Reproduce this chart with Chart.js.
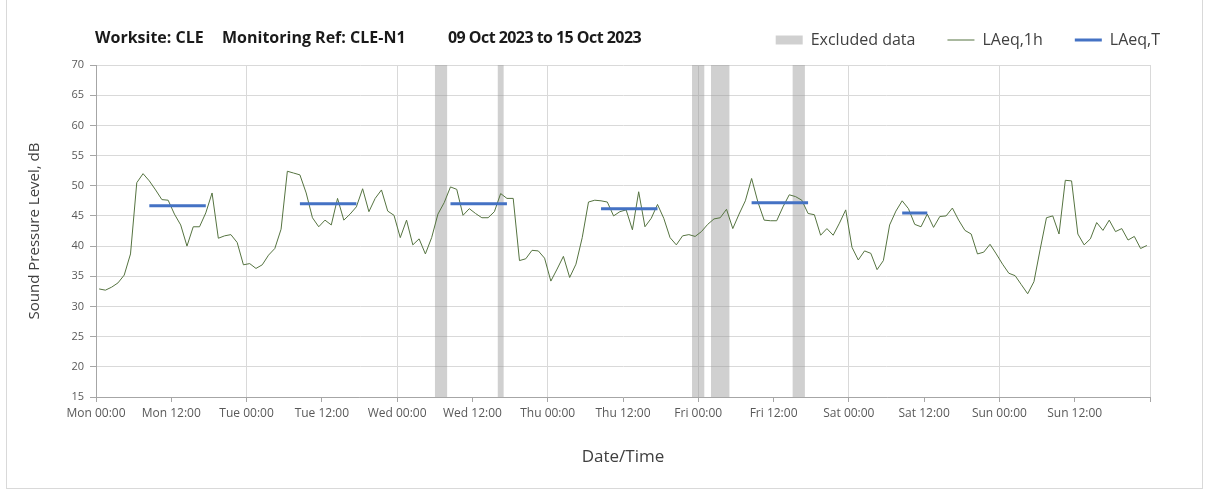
<!DOCTYPE html>
<html>
<head>
<meta charset="utf-8">
<title>CLE-N1 noise monitoring</title>
<script src="https://cdn.jsdelivr.net/npm/chart.js@4.4.0/dist/chart.umd.min.js"></script>
<style>
  html, body { margin: 0; padding: 0; background: #fff; }
  #wrap { position: relative; width: 1208px; height: 492px; overflow: hidden; }
  #frame { position: absolute; left: 6px; top: -1px; width: 1197px; height: 490px; border: 1px solid #d9d9d9; box-sizing: border-box; }
  #chart { position: absolute; left: 0; top: 0; }
  .ttl { position: absolute; top: 26px; font: bold 16px 'Open Sans', sans-serif; color: #1a1a1a; white-space: nowrap; }
</style>
</head>
<body>
<div id="wrap">
  <div id="frame"></div>
  <canvas id="chart" width="1208" height="492"></canvas>
  <div class="ttl" style="left:95px">Worksite: CLE</div>
  <div class="ttl" style="left:222px">Monitoring Ref: CLE-N1</div>
  <div class="ttl" style="left:448px;letter-spacing:-0.55px">09 Oct 2023 to 15 Oct 2023</div>
</div>
<script>
// hourly LAeq,1h values, Mon 00:00 .. Sun 23:00 (one per hour)
const laeq1h = [
  32.9, 32.7, 33.2, 33.9, 35.2, 38.7, 50.5, 52.0, 50.8, 49.3, 47.7, 47.6,
  45.3, 43.5, 40.0, 43.2, 43.2, 45.5, 48.8, 41.3, 41.7, 41.9, 40.6, 36.9,
  37.1, 36.3, 36.9, 38.5, 39.6, 42.8, 52.4, 52.1, 51.8, 48.8, 44.7, 43.2,
  44.3, 43.5, 47.9, 44.3, 45.3, 46.5, 49.5, 45.7, 47.9, 49.3, 45.8, 45.1,
  41.4, 44.3, 40.2, 41.2, 38.7, 41.4, 45.3, 47.2, 49.8, 49.4, 45.1, 46.2,
  45.4, 44.7, 44.7, 45.7, 48.7, 47.9, 47.9, 37.6, 37.9, 39.3, 39.2, 38.0,
  34.2, 36.2, 38.3, 34.8, 37.0, 41.4, 47.3, 47.6, 47.5, 47.3, 45.0, 45.7,
  46.0, 42.7, 49.0, 43.2, 44.6, 46.9, 44.6, 41.4, 40.2, 41.7, 41.9, 41.6,
  42.4, 43.6, 44.5, 44.7, 46.1, 42.9, 45.3, 47.5, 51.2, 47.3, 44.3, 44.2,
  44.2, 46.5, 48.5, 48.2, 47.6, 45.4, 45.2, 41.8, 42.9, 41.8, 43.8, 46.0,
  39.8, 37.7, 39.2, 38.8, 36.1, 37.6, 43.5, 45.8, 47.5, 46.2, 43.6, 43.2,
  45.3, 43.1, 44.9, 45.0, 46.3, 44.3, 42.6, 42.0, 38.7, 39.0, 40.3, 38.7,
  37.0, 35.5, 35.1, 33.6, 32.1, 34.1, 39.5, 44.7, 45.0, 42.0, 50.9, 50.8,
  42.0, 40.2, 41.2, 43.9, 42.6, 44.3, 42.4, 42.9, 41.0, 41.6, 39.6, 40.1
];

// LAeq,T periods (first and last hour index of each period)
const periodStart = [8, 32, 56, 80, 104, 128];
const periodEnd = [17, 41, 65, 89, 113, 132];
const periodLevel = [46.7, 47.0, 47.0, 46.2, 47.2, 45.5];

// excluded data blocks, in hours from Mon 00:00
const exclStart = [54, 64, 95, 98, 111];
const exclEnd = [56, 65, 97, 101, 113];

const xTickLabels = [
  'Mon 00:00', 'Mon 12:00', 'Tue 00:00', 'Tue 12:00', 'Wed 00:00', 'Wed 12:00', 'Thu 00:00',
  'Thu 12:00', 'Fri 00:00', 'Fri 12:00', 'Sat 00:00', 'Sat 12:00', 'Sun 00:00', 'Sun 12:00'
];
const yMin = 15, yMax = 70;

// build point lists for the library
const hourlyPoints = laeq1h.map((v, i) => ({ x: i + 0.5, y: v }));

const periodPoints = [];
periodStart.forEach((s, i) => {
  if (i > 0) periodPoints.push({ x: s, y: null });
  periodPoints.push({ x: s + 0.5, y: periodLevel[i] });
  periodPoints.push({ x: periodEnd[i] + 0.5, y: periodLevel[i] });
});

const excludedPoints = [];
exclStart.forEach((s, i) => {
  if (i > 0) excludedPoints.push({ x: s - 0.01, y: null });
  excludedPoints.push({ x: s, y: yMax });
  excludedPoints.push({ x: exclEnd[i], y: yMax });
});

const textColor = '#404040';
const font = "'Open Sans', sans-serif";

const ctx = document.getElementById('chart').getContext('2d');
new Chart(ctx, {
  type: 'line',
  data: {
    datasets: [
      {
        label: 'Excluded data',
        data: excludedPoints,
        order: 3,
        fill: 'start',
        backgroundColor: 'rgba(150,150,150,0.45)',
        borderColor: 'rgba(0,0,0,0)',
        borderWidth: 0,
        pointRadius: 0,
        pointStyle: 'rect',
        spanGaps: false
      },
      {
        label: 'LAeq,1h',
        data: hourlyPoints,
        order: 2,
        borderColor: '#557340',
        backgroundColor: '#557340',
        borderWidth: 1,
        pointRadius: 0,
        pointStyle: 'line',
        tension: 0
      },
      {
        label: 'LAeq,T',
        data: periodPoints,
        order: 1,
        borderColor: '#4472c4',
        backgroundColor: '#4472c4',
        borderWidth: 3,
        pointRadius: 0,
        pointStyle: 'line',
        spanGaps: false
      }
    ]
  },
  options: {
    responsive: false,
    animation: false,
    layout: { padding: { top: 0, right: 16, bottom: 0, left: 0 } },
    plugins: {
      tooltip: { enabled: false },
      legend: {
        position: 'top',
        align: 'end',
        labels: {
          usePointStyle: true,
          pointStyleWidth: 27,
          boxHeight: 9,
          padding: 32,
          color: textColor,
          font: { family: font, size: 16 },
          sort: (a, b) => a.datasetIndex - b.datasetIndex
        }
      },
      // spacer between legend row and plot area
      subtitle: {
        display: true,
        text: ' ',
        weight: 500,
        padding: 0,
        font: { size: 6, lineHeight: 7 / 6 }
      }
    },
    scales: {
      x: {
        type: 'linear',
        min: 0,
        max: 168,
        afterFit: s => { s.height = 95; },
        afterBuildTicks: s => {
          s.ticks = [];
          for (let v = 0; v <= 168; v += 12) s.ticks.push({ value: v });
        },
        ticks: {
          autoSkip: false,
          maxRotation: 0,
          padding: 4,
          color: '#595959',
          font: { family: font, size: 12 },
          callback: (v, i) => xTickLabels[i] || ''
        },
        grid: {
          color: c => (c.tick && c.tick.value % 24 === 0) ? '#d9d9d9' : 'rgba(0,0,0,0)',
          tickColor: '#a6a6a6',
          tickLength: 5
        },
        border: { color: '#a6a6a6' },
        title: {
          display: true,
          text: 'Date/Time',
          color: textColor,
          font: { family: font, size: 17 },
          padding: { top: 0, bottom: 25 }
        }
      },
      y: {
        min: yMin,
        max: yMax,
        afterFit: s => { s.width = 96; },
        ticks: {
          stepSize: 5,
          padding: 6,
          color: '#595959',
          font: { family: font, size: 11 }
        },
        grid: { color: '#d9d9d9', tickColor: '#a6a6a6', tickLength: 6 },
        border: { color: '#a6a6a6' },
        title: {
          display: true,
          text: 'Sound Pressure Level, dB',
          color: textColor,
          font: { family: font, size: 15 },
          padding: { top: 26, bottom: 0 }
        }
      },
      yR: {
        position: 'right',
        display: true,
        afterFit: s => { s.width = 42; },
        ticks: { display: false },
        grid: { display: false },
        border: { display: false }
      }
    }
  }
});
</script>
</body>
</html>
